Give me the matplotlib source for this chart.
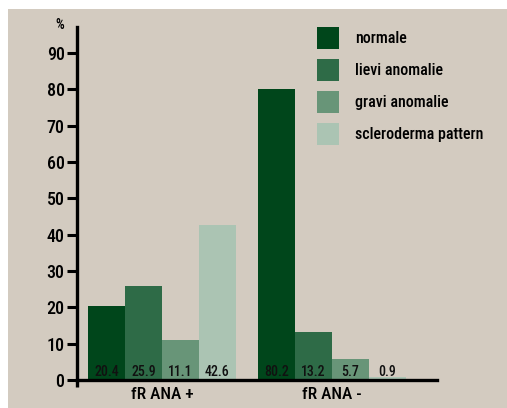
import numpy as np
import matplotlib
matplotlib.use("Agg")
import matplotlib.pyplot as plt
from matplotlib import font_manager
from matplotlib.patches import Rectangle
import matplotlib.transforms as mtransforms

# data
groups = ["fR ANA +", "fR ANA -"]
series = ["normale", "lievi anomalie", "gravi anomalie", "scleroderma pattern"]
normale = [20.4, 80.2]
lievi = [25.9, 13.2]
gravi = [11.1, 5.7]
sclero = [42.6, 0.9]
colors = ["#00461b", "#2e6b47", "#689578", "#abc4b3"]
bg = "#d3cbc0"

# the original uses a condensed sans; take the first one that is installed
installed = {f.name for f in font_manager.fontManager.ttflist}
wanted = ["Roboto Condensed", "Archivo Narrow", "PT Sans Narrow", "Liberation Sans Narrow",
          "Fira Sans Condensed", "IBM Plex Sans Condensed", "Asap Condensed",
          "Encode Sans Condensed", "Barlow Semi Condensed", "Open Sans Condensed"]
fams = [f for f in wanted if f in installed][:1]
plt.rcParams['font.family'] = fams + ['DejaVu Sans']
plt.rcParams['font.weight'] = 500

fig = plt.figure(figsize=(5.07, 4.08), dpi=100, facecolor="white")
fig.patches.append(Rectangle((8 / 507, 0), 1 - 8 / 507, 1 - 9 / 408,
                             transform=fig.transFigure, facecolor=bg,
                             edgecolor="none", zorder=-10))

ax = fig.add_axes([77 / 507, 28 / 408, 360 / 507, 353 / 408])
ax.set_facecolor("none")

x = np.arange(len(groups))
width = 37 / 170
values = [normale, lievi, gravi, sclero]
for i, (name, vals) in enumerate(zip(series, values)):
    pos = x - 1.5 * width + i * width
    ax.bar(pos, vals, width=width, color=colors[i], label=name, zorder=2)
    for p, v in zip(pos, vals):
        ax.text(p, 2.3, f"{v:.1f}", ha="center", va="center", fontsize=10,
                color="#111111", zorder=3)

ax.set_xlim(-0.5, 1.618)
ax.set_ylim(0, 97.2)
ax.set_yticks(np.arange(0, 100, 10))
ax.set_xticks(x)
ax.set_xticklabels(groups, fontsize=12.5)
ax.tick_params(axis="x", length=0, pad=5)
ax.tick_params(axis="y", length=7, width=2.2, labelsize=13, pad=2)
for s in ["top", "right"]:
    ax.spines[s].set_visible(False)
for s in ["left", "bottom"]:
    ax.spines[s].set_linewidth(2.4)

# y axis pokes a little below the zero line
trans = mtransforms.blended_transform_factory(ax.transAxes, ax.transData)
ax.plot([0, 0], [0, -2], transform=trans, color="black", lw=2.4,
        clip_on=False, solid_capstyle="butt")

fig.text(60 / 507, 1 - 25 / 408, "%", ha="center", va="center", fontsize=10)

ax.legend(loc="upper left", bbox_to_anchor=(317 / 507, 1 - 27 / 408),
          bbox_transform=fig.transFigure, frameon=False, fontsize=11.5,
          borderpad=0, borderaxespad=0, handlelength=1.4, handleheight=1.75,
          labelspacing=0.62, handletextpad=1.0)

fig.savefig("out.png", dpi=100, facecolor=fig.get_facecolor())
